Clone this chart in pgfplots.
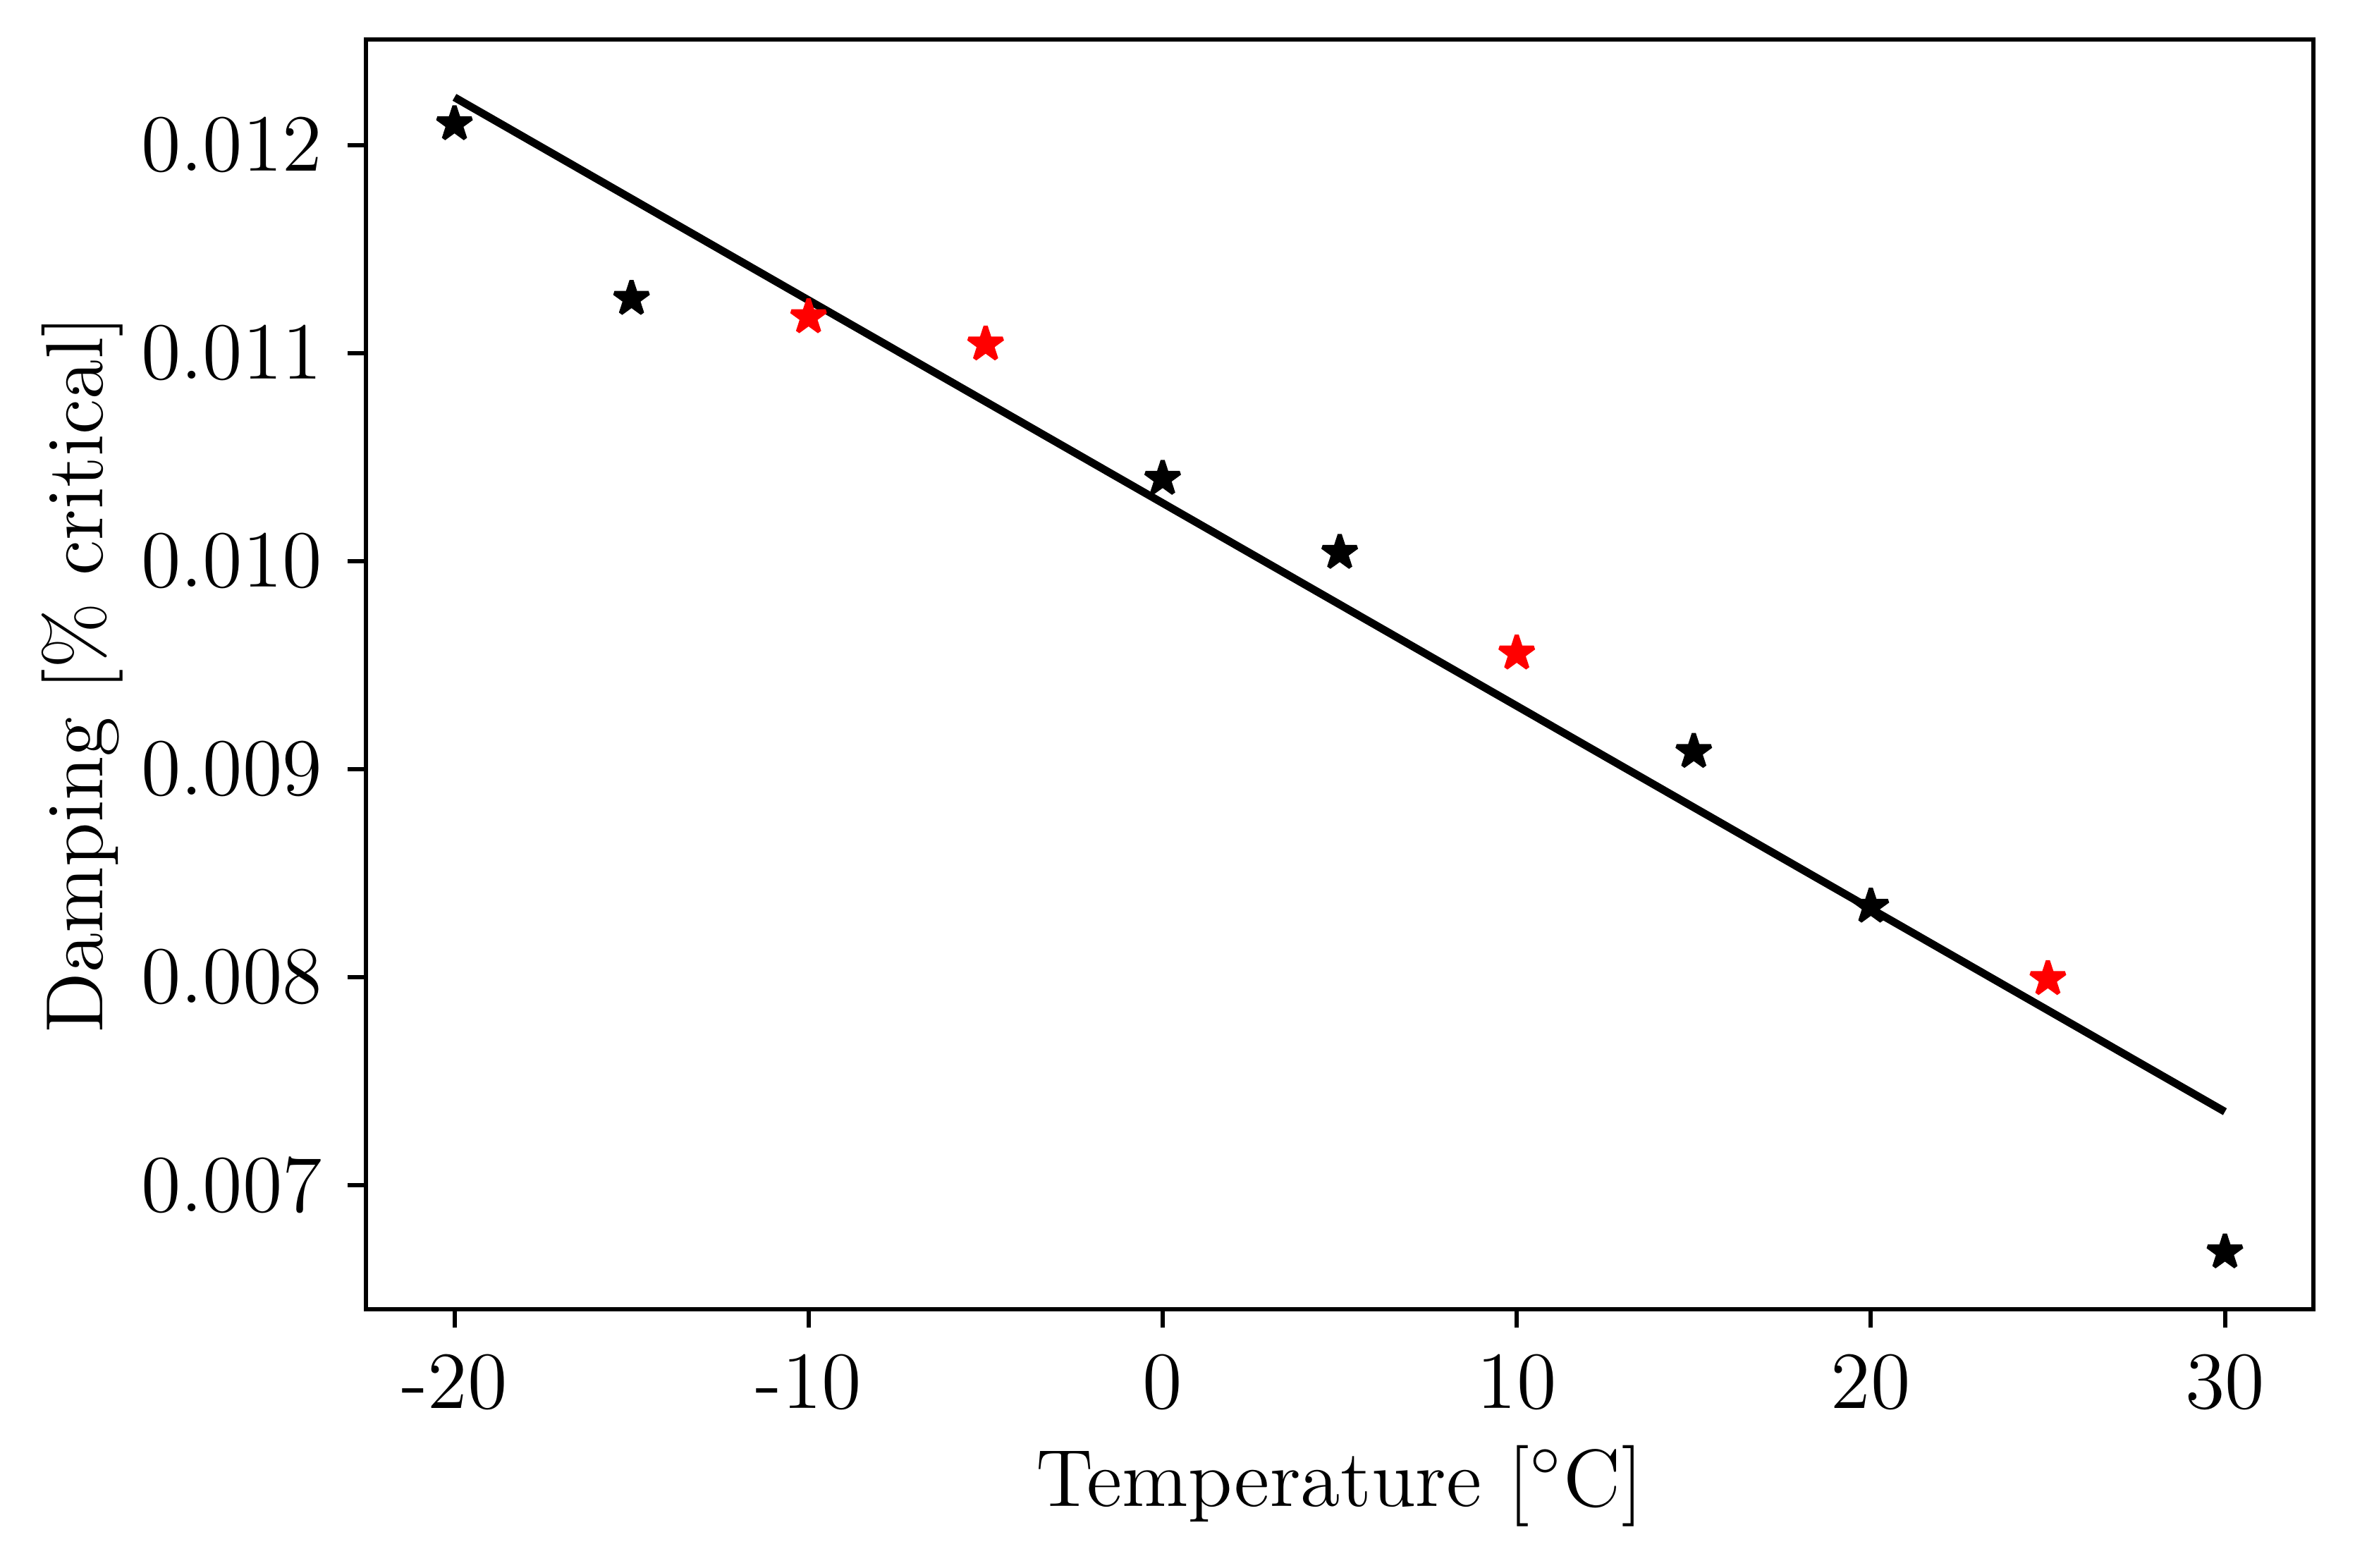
\documentclass[12pt,border=0pt]{standalone}
\usepackage{pgfplots}
\pgfplotsset{compat=1.18}

\pgfdeclareplotmark{mplstar}{%
  \pgfpathmoveto{\pgfpointpolar{90}{\pgfplotmarksize}}%
  \pgfpathlineto{\pgfpointpolar{126}{0.382\pgfplotmarksize}}%
  \pgfpathlineto{\pgfpointpolar{162}{\pgfplotmarksize}}%
  \pgfpathlineto{\pgfpointpolar{198}{0.382\pgfplotmarksize}}%
  \pgfpathlineto{\pgfpointpolar{234}{\pgfplotmarksize}}%
  \pgfpathlineto{\pgfpointpolar{270}{0.382\pgfplotmarksize}}%
  \pgfpathlineto{\pgfpointpolar{306}{\pgfplotmarksize}}%
  \pgfpathlineto{\pgfpointpolar{342}{0.382\pgfplotmarksize}}%
  \pgfpathlineto{\pgfpointpolar{18}{\pgfplotmarksize}}%
  \pgfpathlineto{\pgfpointpolar{54}{0.382\pgfplotmarksize}}%
  \pgfpathclose
  \pgfusepathqfillstroke}

\begin{document}
\fontsize{11.5}{13.8}\selectfont
\begin{tikzpicture}
\begin{axis}[
  scale only axis,
  width=276.2pt, height=180.1pt,
  xmin=-22.5, xmax=32.5,
  ymin=0.006403, ymax=0.012508,
  xtick={-20,-10,0,10,20,30},
  xticklabels={-20,-10,0,10,20,30},
  ytick={0.007,0.008,0.009,0.010,0.011,0.012},
  yticklabels={0.007,0.008,0.009,0.010,0.011,0.012},
  scaled y ticks=false,
  scaled x ticks=false,
  tick align=outside,
  major tick length=2.6pt,
  xtick pos=bottom, ytick pos=left,
  axis line style={line width=0.6pt},
  every tick/.style={black, line width=0.6pt},
  every tick label/.append style={font=\fontsize{11.5}{13.8}\selectfont},
  every axis label/.append style={font=\fontsize{11.5}{13.8}\selectfont},
  xticklabel style={inner sep=3.6pt},
  yticklabel style={inner sep=3.4pt},
  xlabel={Temperature [$^\circ$C]},
  ylabel={Damping [\% critical]},
  xlabel style={at={(axis description cs:0.5,-0.1549)}, anchor=base},
  ylabel style={at={(axis description cs:-0.1354,0.5)}, anchor=base},
  clip=false,
]
\addplot[only marks, mark=mplstar, mark size=2.55pt,
  mark options={fill=black, draw=black, line width=0.6pt, line join=bevel}]
  coordinates {(-20,0.012102) (-15,0.011262) (0,0.010397) (5,0.010041)
               (15,0.009084) (20,0.00834) (30,0.006678)};
\addplot[only marks, mark=mplstar, mark size=2.55pt,
  mark options={fill=red, draw=red, line width=0.6pt, line join=bevel}]
  coordinates {(-10,0.011174) (-5,0.011043) (10,0.009557) (25,0.007992)};
\addplot[black, line width=1.1pt, no marks]
  coordinates {(-20,0.01223) (30,0.007353)};
\end{axis}
\pgfresetboundingbox
\path[use as bounding box] ([xshift=-51.9pt,yshift=-36.6pt]current axis.south west) rectangle ([xshift=5.9pt,yshift=5.6pt]current axis.north east);
\end{tikzpicture}
\end{document}
